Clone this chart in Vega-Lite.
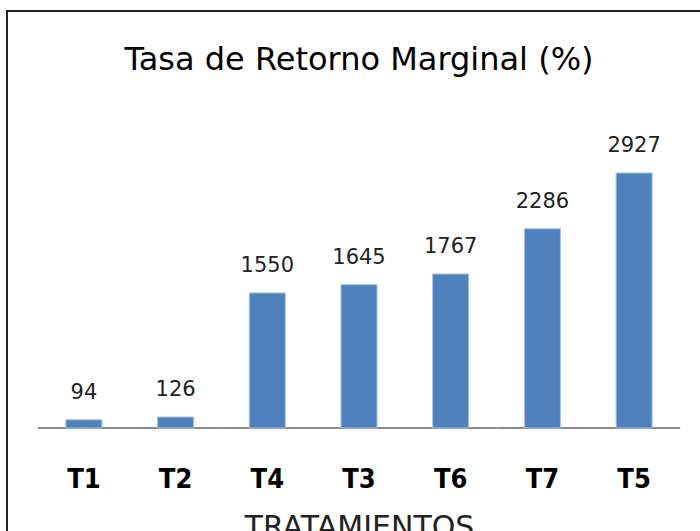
{
  "$schema": "https://vega.github.io/schema/vega-lite/v6.json",
  "autosize": "none",
  "padding": {"left": 7, "top": 11, "right": 0, "bottom": 0},
  "width": 704,
  "height": 540,
  "background": "white",
  "title": {
    "text": "Tasa de Retorno Marginal (%)",
    "font": "DejaVu Sans",
    "fontSize": 32,
    "fontWeight": "normal",
    "color": "#000000",
    "anchor": "middle",
    "orient": "top",
    "baseline": "middle",
    "offset": 0,
    "dy": 81
  },
  "config": {
    "view": {"stroke": "#222222", "strokeWidth": 2}
  },
  "data": {
    "values": [
      {"tratamiento": "T1", "valor": 94},
      {"tratamiento": "T2", "valor": 126},
      {"tratamiento": "T4", "valor": 1550},
      {"tratamiento": "T3", "valor": 1645},
      {"tratamiento": "T6", "valor": 1767},
      {"tratamiento": "T7", "valor": 2286},
      {"tratamiento": "T5", "valor": 2927}
    ]
  },
  "encoding": {
    "x": {
      "field": "tratamiento",
      "type": "nominal",
      "sort": null,
      "scale": {"paddingInner": 0.607, "paddingOuter": 0.642},
      "axis": {
        "orient": "bottom",
        "offset": -123,
        "domain": false,
        "ticks": false,
        "tickSize": 0,
        "labelAngle": 0,
        "labelFont": "DejaVu Sans Condensed",
        "labelFontWeight": "bold",
        "labelFontSize": 27,
        "labelColor": "#000000",
        "labelPadding": 38,
        "title": "TRATAMIENTOS",
        "titleFont": "DejaVu Sans",
        "titleFontWeight": "normal",
        "titleFontSize": 30,
        "titleColor": "#222222",
        "titlePadding": 20
      }
    }
  },
  "layer": [
    {
      "mark": {"type": "tick", "color": "#8c8c8c", "thickness": 2, "size": 92, "opacity": 1},
      "encoding": {
        "y": {"datum": 0, "type": "quantitative", "scale": {"domain": [-1412, 4786], "nice": false, "zero": false}, "axis": null}
      }
    },
    {
      "mark": {"type": "bar", "color": "#4F81BD", "stroke": "#A9C3E3", "strokeWidth": 1},
      "encoding": {
        "y": {"field": "valor", "type": "quantitative", "scale": {"domain": [-1412, 4786], "nice": false, "zero": false}, "axis": null},
        "y2": {"datum": 0}
      }
    },
    {
      "mark": {"type": "text", "font": "DejaVu Sans", "fontSize": 21, "color": "#222222", "baseline": "alphabetic", "dy": -21},
      "encoding": {
        "y": {"field": "valor", "type": "quantitative", "scale": {"domain": [-1412, 4786], "nice": false, "zero": false}, "axis": null},
        "text": {"field": "valor", "type": "quantitative"}
      }
    }
  ]
}
